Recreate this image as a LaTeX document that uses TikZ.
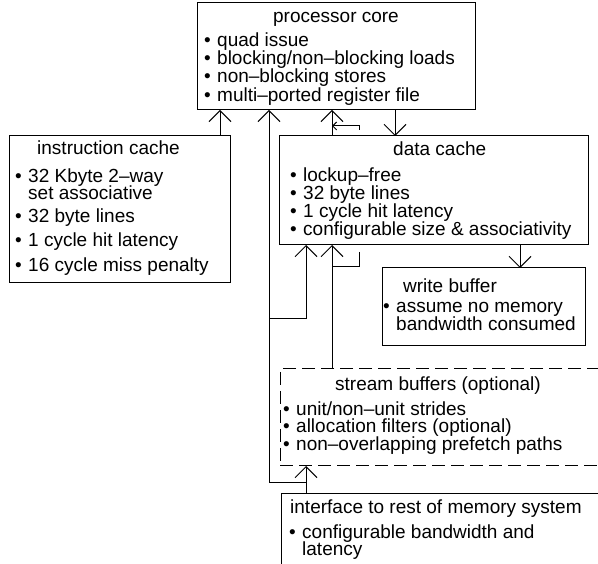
\documentclass[tikz,border=0pt]{standalone}
\usepackage{fontspec}
\setmainfont{Liberation Sans}
\usetikzlibrary{arrows.meta}
\newcommand\bul{\makebox[13pt][l]{•}}
\begin{document}
\begin{tikzpicture}[x=1pt,y=-1pt,
  font=\fontsize{19pt}{18pt}\selectfont,
  box/.style={draw, line width=1pt, inner sep=0pt, outer sep=0pt, anchor=north west},
  dbox/.style={box, dash pattern=on 13pt off 6pt},
  txt/.style={anchor=base west, inner sep=0pt},
  ttl/.style={anchor=base, inner sep=0pt},
  ln/.style={line width=1pt},
  arr/.style={ln, -{Straight Barb[length=11pt,width=22pt]}},
  sarr/.style={ln, -{Straight Barb[length=4pt,width=8pt]}}]
\useasboundingbox (0,0) rectangle (598,564);
\clip (0,0) rectangle (598,564);

% boxes
\node[box, minimum width=278pt, minimum height=107pt] (core) at (197,3) {};
\node[box, minimum width=221pt, minimum height=147pt] (icache) at (9,136) {};
\node[box, minimum width=309pt, minimum height=109pt] (dcache) at (279,136) {};
\node[box, minimum width=203pt, minimum height=78pt] (wbuf) at (382,268) {};
\node[dbox, minimum width=330pt, minimum height=97pt] (sbuf) at (280,369) {};
\node[box, minimum width=330pt, minimum height=90pt] (iface) at (281,494) {};

% processor core text
\node[ttl] (coreT) at (336,23) {processor core};
\node[txt] (core1) at (204,47) {\bul quad issue};
\node[txt] (core2) at (204,65) {\bul blocking/non–blocking loads};
\node[txt] (core3) at (204,83) {\bul non–blocking stores};
\node[txt] (core4) at (204,102) {\bul multi–ported register file};

% instruction cache text
\node[txt] (icT) at (37,155) {instruction cache};
\node[txt] (ic1) at (15,183) {\bul 32 Kbyte 2–way};
\node[txt] (ic1b) at (28,200) {set associative};
\node[txt] (ic2) at (15,223) {\bul 32 byte lines};
\node[txt] (ic3) at (15,247) {\bul 1 cycle hit latency};
\node[txt] (ic4) at (15,272) {\bul 16 cycle miss penalty};

% data cache text
\node[txt] (dcT) at (393,156) {data cache};
\node[txt] (dc1) at (290,182) {\bul lockup–free};
\node[txt] (dc2) at (290,200) {\bul 32 byte lines};
\node[txt] (dc3) at (290,218) {\bul 1 cycle hit latency};
\node[txt] (dc4) at (290,236) {\bul configurable size \& associativity};

% write buffer text
\node[txt] (wbT) at (403,293) {write buffer};
\node[txt] (wb1) at (383,313) {\bul assume no memory};
\node[txt] (wb1b) at (396,331) {bandwidth consumed};

% stream buffers text
\node[ttl] (sbT) at (438,391) {stream buffers (optional)};
\node[txt] (sb1) at (283,416) {\bul unit/non–unit strides};
\node[txt] (sb2) at (283,433) {\bul allocation filters (optional)};
\node[txt] (sb3) at (283,451) {\bul non–overlapping prefetch paths};

% interface text
\node[txt] (ifT) at (290,514) {interface to rest of memory system};
\node[txt] (if1) at (289,539) {\bul configurable bandwidth and};
\node[txt] (if1b) at (302,555) {latency};

% x positions of connectors
\coordinate (xa) at (220,0);
\coordinate (xb) at (269,0);
\coordinate (xc) at (306,0);
\coordinate (xd) at (332,0);
\coordinate (xf) at (395,0);
\coordinate (xg) at (520,0);
% joints
\coordinate (j0) at (269,483);
\coordinate (j1) at (306,483);
\coordinate (j2) at (269,319);
\coordinate (j3) at (306,319);
\coordinate (s1) at (359,130);
\coordinate (s2) at (359,126);
\coordinate (s3) at (359,252);
\coordinate (s4) at (359,267);

% connectors
\draw[arr] (icache.north -| xa) -- (core.south -| xa);
\draw[arr] (dcache.north -| xd) -- (core.south -| xd);
\draw[arr] (core.south -| xf) -- (dcache.north -| xf);
\draw[arr] (dcache.south -| xg) -- (wbuf.north -| xg);
\draw[arr] (sbuf.north -| xd) -- (dcache.south -| xd);
\draw[arr] (iface.north -| xc) -- (sbuf.south -| xc);
\draw[arr] (j1) -- (j0) -- (core.south -| xb);
\draw[arr] (j2) -- (j3) -- (dcache.south -| xc);
\draw[sarr] (s1) -- (s2) -- (s2 -| xd);
\draw[ln] (s3) -- (s4) -- (s4 -| xd);
\end{tikzpicture}
\end{document}
